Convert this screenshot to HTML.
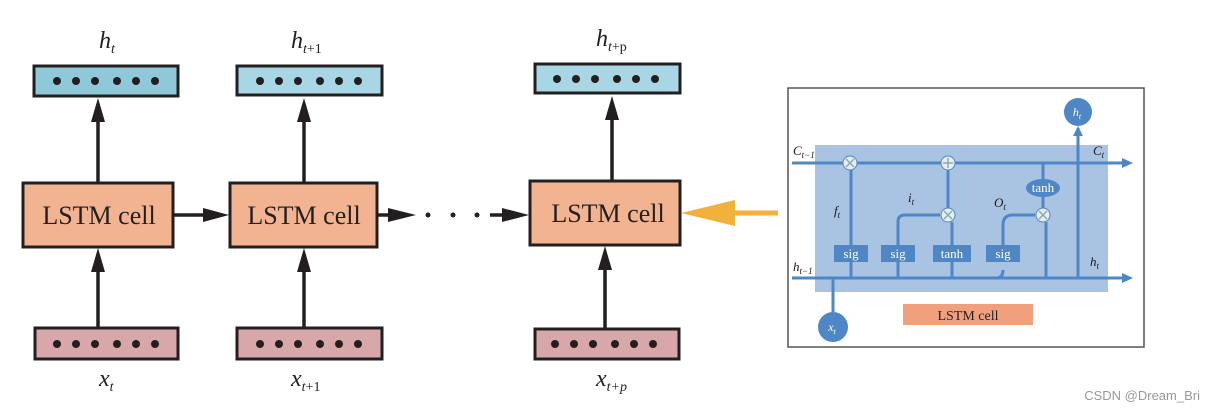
<!DOCTYPE html><html><head><style>body{margin:0;background:#fff}svg{display:block}</style></head><body>
<svg width="1207" height="408" xmlns="http://www.w3.org/2000/svg" font-family="Liberation Serif, serif">
<g stroke="#231f20" stroke-width="3.5">
<line x1="98" y1="182" x2="98" y2="120"/><line x1="98" y1="327" x2="98" y2="270"/>
<line x1="304" y1="182" x2="304" y2="120"/><line x1="304" y1="327" x2="304" y2="270"/>
<line x1="612" y1="180" x2="612" y2="118"/><line x1="605" y1="328" x2="605" y2="268"/>
<line x1="173" y1="215" x2="205" y2="215"/><line x1="377" y1="215" x2="392" y2="215"/><line x1="490" y1="215" x2="505" y2="215"/>
</g>
<g fill="#231f20">
<path d="M91,122L98,98L105,122z"/><path d="M91,272L98,248L105,272z"/>
<path d="M297,122L304,98L311,122z"/><path d="M297,272L304,248L311,272z"/>
<path d="M605,120L612,96L619,120z"/><path d="M598,270L605,246L612,270z"/>
<path d="M203,208L229,215L203,222z"/><path d="M388,208L416,215L388,222z"/><path d="M502,208L529,215L502,222z"/>
<circle cx="428" cy="215" r="2.5"/><circle cx="453" cy="215" r="2.5"/><circle cx="477" cy="215" r="2.5"/>
</g>
<g stroke="#231f20" stroke-width="3">
<rect x="34" y="66" width="144" height="30" fill="#8fc8d8"/>
<rect x="237" y="66" width="145" height="29" fill="#a9d6e4"/>
<rect x="535" y="64" width="145" height="29" fill="#a9d6e4"/>
<rect x="23" y="183" width="150" height="64" fill="#f2b490"/>
<rect x="230" y="183" width="147" height="64" fill="#f2b490"/>
<rect x="530" y="181" width="150" height="64" fill="#f2b490"/>
<rect x="35" y="328" width="143" height="31" fill="#d8a7a9"/>
<rect x="237" y="328" width="145" height="31" fill="#d8a7a9"/>
<rect x="535" y="329" width="144" height="30" fill="#d8a7a9"/>
</g>
<g fill="#231f20">
<g><circle cx="57" cy="81" r="4"/><circle cx="76" cy="81" r="4"/><circle cx="95" cy="81" r="4"/><circle cx="117" cy="81" r="4"/><circle cx="136" cy="81" r="4"/><circle cx="155" cy="81" r="4"/></g>
<g transform="translate(0,263)"><circle cx="57" cy="81" r="4"/><circle cx="76" cy="81" r="4"/><circle cx="95" cy="81" r="4"/><circle cx="117" cy="81" r="4"/><circle cx="136" cy="81" r="4"/><circle cx="155" cy="81" r="4"/></g>
<g transform="translate(203,0)"><circle cx="57" cy="81" r="4"/><circle cx="76" cy="81" r="4"/><circle cx="95" cy="81" r="4"/><circle cx="117" cy="81" r="4"/><circle cx="136" cy="81" r="4"/><circle cx="155" cy="81" r="4"/></g>
<g transform="translate(203,263)"><circle cx="57" cy="81" r="4"/><circle cx="76" cy="81" r="4"/><circle cx="95" cy="81" r="4"/><circle cx="117" cy="81" r="4"/><circle cx="136" cy="81" r="4"/><circle cx="155" cy="81" r="4"/></g>
<g transform="translate(500,-2)"><circle cx="57" cy="81" r="4"/><circle cx="76" cy="81" r="4"/><circle cx="95" cy="81" r="4"/><circle cx="117" cy="81" r="4"/><circle cx="136" cy="81" r="4"/><circle cx="155" cy="81" r="4"/></g>
<g transform="translate(498,263)"><circle cx="57" cy="81" r="4"/><circle cx="76" cy="81" r="4"/><circle cx="95" cy="81" r="4"/><circle cx="117" cy="81" r="4"/><circle cx="136" cy="81" r="4"/><circle cx="155" cy="81" r="4"/></g>
</g>
<g fill="#231f20" font-size="26" text-anchor="middle">
<text x="99" y="224">LSTM cell</text><text x="304" y="224">LSTM cell</text><text x="608" y="222">LSTM cell</text>
</g>
<g fill="#231f20" font-size="24" font-style="italic">
<text x="99" y="48">h<tspan font-size="14" dy="5">t</tspan></text>
<text x="291" y="48">h<tspan font-size="14" dy="5">t</tspan><tspan font-size="14" font-style="normal">+1</tspan></text>
<text x="596" y="46">h<tspan font-size="14" dy="5">t</tspan><tspan font-size="14" font-style="normal">+p</tspan></text>
<text x="99" y="386">x<tspan font-size="14" dy="5">t</tspan></text>
<text x="291" y="386">x<tspan font-size="14" dy="5">t</tspan><tspan font-size="14" font-style="normal">+1</tspan></text>
<text x="596" y="386">x<tspan font-size="14" dy="5">t+p</tspan></text>
</g>
<path d="M778,210.5L735,210.5L735,200L681,213L735,226L735,215.5L778,215.5z" fill="#f2b13a"/>
<rect x="788" y="88" width="356" height="259" fill="#fff" stroke="#555" stroke-width="1.5"/>
<rect x="815" y="145" width="293" height="147" fill="#a9c3e3"/>
<g stroke="#4f86c6" stroke-width="3" fill="none">
<line x1="792" y1="163" x2="1130" y2="163"/>
<line x1="792" y1="278" x2="1130" y2="278"/>
<path d="M1046,222L1046,277"/>
<line x1="1078" y1="277" x2="1078" y2="128"/>
<line x1="851" y1="246" x2="851" y2="170"/>
<line x1="952" y1="246" x2="952" y2="222"/>
<line x1="948" y1="208" x2="948" y2="170"/>
<path d="M898,246L898,222Q898,215 905,215L940,215"/>
<path d="M1003,246L1003,225Q1003,215 1013,215L1035,215"/>
<path d="M996,278Q1003,278 1003,270"/>
<line x1="1043" y1="163" x2="1043" y2="180"/><line x1="1043" y1="196" x2="1043" y2="208"/>
<line x1="833" y1="312" x2="833" y2="278"/>
<line x1="851" y1="278" x2="851" y2="262"/><line x1="898" y1="278" x2="898" y2="262"/><line x1="952" y1="278" x2="952" y2="262"/>
</g>
<g fill="#4f86c6">
<path d="M1122,158L1133,163L1122,168z"/><path d="M1122,273L1133,278L1122,283z"/>
<path d="M1073,136L1078,126L1083,136z"/>
<circle cx="1078" cy="112" r="14"/><circle cx="833" cy="327" r="15"/>
<ellipse cx="1043" cy="188" rx="17" ry="9"/>
<rect x="834" y="245" width="34" height="17"/><rect x="881" y="245" width="34" height="17"/><rect x="933" y="245" width="38" height="17"/><rect x="986" y="245" width="34" height="17"/>
</g>
<g fill="#e8eef7" stroke="#4f86c6" stroke-width="1">
<circle cx="850" cy="163" r="7"/><circle cx="948" cy="163" r="7"/><circle cx="948" cy="215" r="7"/><circle cx="1043" cy="215" r="7"/>
</g>
<g stroke="#8aa" stroke-width="1.5">
<path d="M846,159L854,167M854,159L846,167M944,211L952,219M952,211L944,219M1039,211L1047,219M1047,211L1039,219M948,158L948,168M943,163L953,163"/>
</g>
<g fill="#fff" font-size="13" text-anchor="middle">
<text x="851" y="258">sig</text><text x="898" y="258">sig</text><text x="952" y="258">tanh</text><text x="1003" y="258">sig</text>
<text x="1043" y="192">tanh</text>
<text x="1077" y="116" font-style="italic" font-size="12">h<tspan font-size="8" dy="3">t</tspan></text>
<text x="832" y="331" font-style="italic" font-size="12">x<tspan font-size="8" dy="3">t</tspan></text>
</g>
<g fill="#1a1a1a" font-size="13" font-style="italic">
<text x="793" y="155">C<tspan font-size="9" dy="3">t−1</tspan></text>
<text x="1093" y="155">C<tspan font-size="9" dy="3">t</tspan></text>
<text x="793" y="271">h<tspan font-size="9" dy="3">t−1</tspan></text>
<text x="1090" y="266">h<tspan font-size="9" dy="3">t</tspan></text>
<text x="834" y="215">f<tspan font-size="9" dy="3">t</tspan></text>
<text x="908" y="202">i<tspan font-size="9" dy="3">t</tspan></text>
<text x="994" y="207">O<tspan font-size="9" dy="3">t</tspan></text>
</g>
<rect x="903" y="304" width="130" height="21" fill="#f0a07c"/>
<text x="968" y="320" font-size="14" text-anchor="middle" fill="#222">LSTM cell</text>
<text x="1200" y="400" font-family="Liberation Sans, sans-serif" font-size="13" fill="#999" text-anchor="end">CSDN @Dream_Bri</text>
</svg>
</body></html>
